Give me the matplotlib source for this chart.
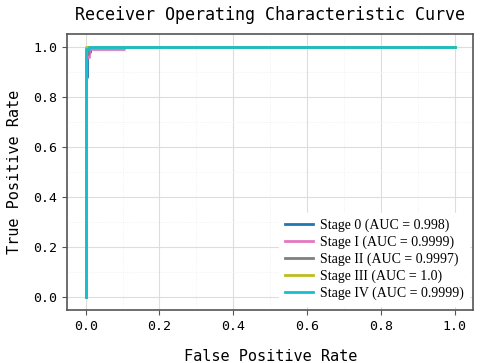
import matplotlib
matplotlib.use("Agg")
import matplotlib.pyplot as plt
from matplotlib.ticker import MultipleLocator

# ROC curves per stage (step points)
labels = ["Stage 0 (AUC = 0.998)", "Stage I (AUC = 0.9999)",
          "Stage II (AUC = 0.9997)", "Stage III (AUC = 1.0)",
          "Stage IV (AUC = 0.9999)"]
fpr_s0 = [0.0, 0.0, 0.004, 0.004, 0.012, 0.012, 1.0]
tpr_s0 = [0.0, 0.88, 0.88, 0.98, 0.98, 1.0, 1.0]
fpr_s1 = [0.0, 0.0, 0.01, 0.01, 0.105, 0.105, 1.0]
tpr_s1 = [0.0, 0.96, 0.96, 0.99, 0.99, 1.0, 1.0]
fpr_s2 = [0.0, 0.0, 0.006, 0.006, 1.0]
tpr_s2 = [0.0, 0.97, 0.97, 1.0, 1.0]
fpr_s3 = [0.0, 0.0, 1.0]
tpr_s3 = [0.0, 1.0, 1.0]
fpr_s4 = [0.0, 0.0, 0.01, 0.01, 1.0]
tpr_s4 = [0.0, 0.99, 0.99, 1.0, 1.0]
colors = ["#1f77b4", "#e377c2", "#7f7f7f", "#bcbd22", "#17becf"]

mono = "DejaVu Sans Mono"
fig = plt.figure(figsize=(4.8, 3.63), dpi=100)
ax = fig.add_axes([0.14, 0.146, 0.846, 0.76])

curves = [(fpr_s0, tpr_s0), (fpr_s1, tpr_s1), (fpr_s2, tpr_s2),
          (fpr_s3, tpr_s3), (fpr_s4, tpr_s4)]
for (f, t), lab, c in zip(curves, labels, colors):
    ax.plot(f, t, color=c, lw=2.0, label=lab)

ax.set_xlim(-0.05, 1.05)
ax.set_ylim(-0.05, 1.05)
ax.xaxis.set_major_locator(MultipleLocator(0.2))
ax.yaxis.set_major_locator(MultipleLocator(0.2))
ax.xaxis.set_minor_locator(MultipleLocator(0.1))
ax.yaxis.set_minor_locator(MultipleLocator(0.1))
ax.grid(which="major", color="#dddddd", lw=0.8)
ax.grid(which="minor", color="#eeeeee", lw=0.6, ls=":")
ax.tick_params(which="minor", length=0)
ax.tick_params(which="major", labelsize=9.5, color="#555555")
for lab in ax.get_xticklabels() + ax.get_yticklabels():
    lab.set_family(mono)
for sp in ax.spines.values():
    sp.set_color("#555555")
    sp.set_linewidth(1.2)

ax.set_xlabel("False Positive Rate", family=mono, fontsize=11, labelpad=12)
ax.set_ylabel("True Positive Rate", family=mono, fontsize=11, labelpad=8)
ax.set_title("Receiver Operating Characteristic Curve", family=mono,
             fontsize=12, pad=10)

leg = ax.legend(loc="lower right", prop={"family": "Liberation Serif", "size": 10},
                frameon=True, fancybox=False, edgecolor="white", framealpha=1,
                handlelength=2.0, handletextpad=0.5, labelspacing=0.25,
                borderpad=0.4, borderaxespad=0.3)

fig.savefig("out.png", dpi=100)
